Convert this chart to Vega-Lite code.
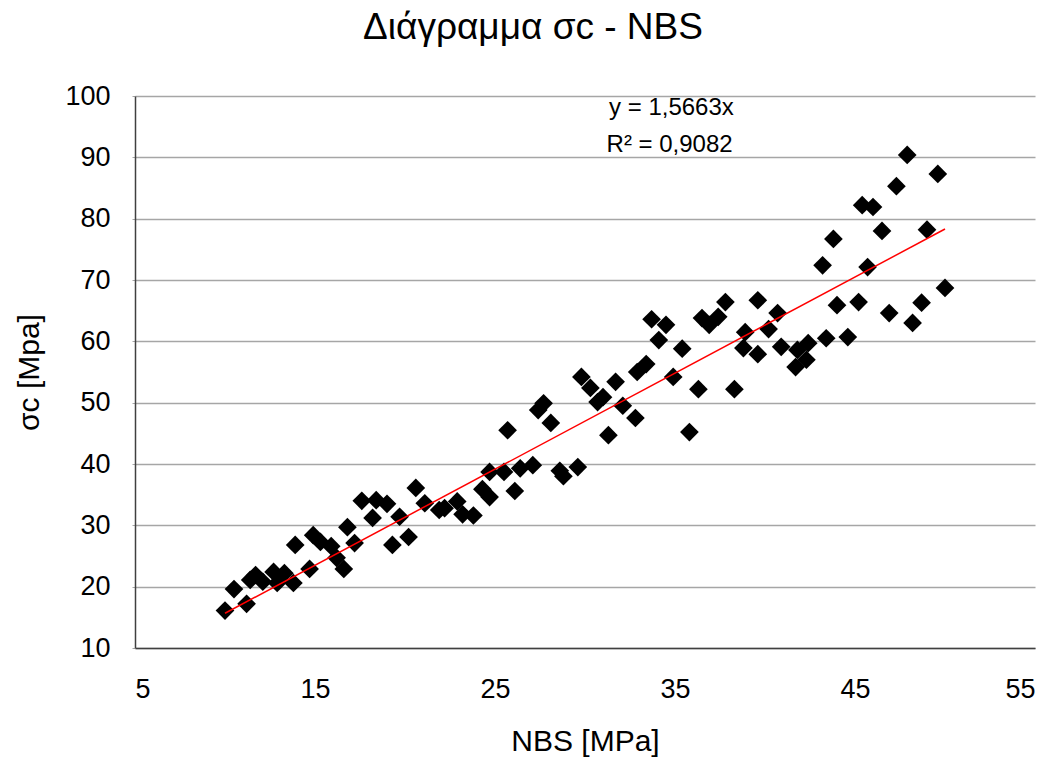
{
  "$schema": "https://vega.github.io/schema/vega-lite/v6.json",
  "width": 900,
  "height": 552,
  "autosize": {"type": "none"},
  "padding": {"left": 135, "top": 96, "right": 22, "bottom": 116},
  "background": "white",
  "config": {
    "font": "Liberation Sans",
    "view": {"stroke": null},
    "axis": {"labelFont": "Liberation Sans", "titleFont": "Liberation Sans", "labelColor": "#000", "titleColor": "#000", "titleFontWeight": "normal"}
  },
  "title": {"text": "Διάγραμμα σc - NBS", "fontSize": 37, "fontWeight": "normal", "font": "Liberation Sans", "color": "#000", "anchor": "middle", "dx": -52, "offset": 35},
  "datasets": {
    "pts": [
      {"NBS": 10.0, "sc": 16.1}, {"NBS": 10.5, "sc": 19.6}, {"NBS": 11.2, "sc": 17.2}, {"NBS": 11.4, "sc": 21.1},
      {"NBS": 11.7, "sc": 21.9}, {"NBS": 12.1, "sc": 20.8}, {"NBS": 12.7, "sc": 22.4}, {"NBS": 12.9, "sc": 20.6},
      {"NBS": 13.3, "sc": 22.2}, {"NBS": 13.8, "sc": 20.6}, {"NBS": 13.9, "sc": 26.8}, {"NBS": 14.7, "sc": 22.9},
      {"NBS": 14.9, "sc": 28.4}, {"NBS": 15.3, "sc": 27.3}, {"NBS": 15.9, "sc": 26.6}, {"NBS": 16.2, "sc": 24.7},
      {"NBS": 16.6, "sc": 22.9}, {"NBS": 16.8, "sc": 29.7}, {"NBS": 17.2, "sc": 27.1}, {"NBS": 17.6, "sc": 34.0},
      {"NBS": 18.2, "sc": 31.2}, {"NBS": 18.4, "sc": 34.1}, {"NBS": 19.0, "sc": 33.5}, {"NBS": 19.3, "sc": 26.8},
      {"NBS": 19.7, "sc": 31.4}, {"NBS": 20.2, "sc": 28.1}, {"NBS": 20.6, "sc": 36.1}, {"NBS": 21.1, "sc": 33.6},
      {"NBS": 21.9, "sc": 32.5}, {"NBS": 22.2, "sc": 32.8}, {"NBS": 22.9, "sc": 33.9}, {"NBS": 23.2, "sc": 31.8},
      {"NBS": 23.8, "sc": 31.6}, {"NBS": 24.3, "sc": 35.9}, {"NBS": 24.7, "sc": 38.7}, {"NBS": 24.7, "sc": 34.6},
      {"NBS": 25.5, "sc": 38.7}, {"NBS": 26.1, "sc": 35.6}, {"NBS": 26.4, "sc": 39.3}, {"NBS": 27.1, "sc": 39.8},
      {"NBS": 25.7, "sc": 45.5}, {"NBS": 27.4, "sc": 48.8}, {"NBS": 27.7, "sc": 49.9}, {"NBS": 28.1, "sc": 46.7},
      {"NBS": 28.6, "sc": 38.9}, {"NBS": 28.8, "sc": 38.0}, {"NBS": 29.6, "sc": 39.5}, {"NBS": 29.8, "sc": 54.2},
      {"NBS": 30.3, "sc": 52.4}, {"NBS": 30.7, "sc": 50.1}, {"NBS": 31.0, "sc": 50.9}, {"NBS": 31.3, "sc": 44.7},
      {"NBS": 31.7, "sc": 53.4}, {"NBS": 32.1, "sc": 49.5}, {"NBS": 32.8, "sc": 47.5}, {"NBS": 32.9, "sc": 55.0},
      {"NBS": 33.4, "sc": 56.3}, {"NBS": 33.7, "sc": 63.6}, {"NBS": 34.1, "sc": 60.2}, {"NBS": 34.5, "sc": 62.7},
      {"NBS": 34.9, "sc": 54.2}, {"NBS": 35.4, "sc": 58.8}, {"NBS": 35.8, "sc": 45.2}, {"NBS": 36.3, "sc": 52.2},
      {"NBS": 36.5, "sc": 63.8}, {"NBS": 36.9, "sc": 62.7}, {"NBS": 37.4, "sc": 64.0}, {"NBS": 37.8, "sc": 66.4},
      {"NBS": 38.3, "sc": 52.2}, {"NBS": 38.9, "sc": 61.5}, {"NBS": 38.8, "sc": 58.9}, {"NBS": 39.6, "sc": 66.7},
      {"NBS": 39.6, "sc": 57.9}, {"NBS": 40.2, "sc": 62.0}, {"NBS": 40.7, "sc": 64.6}, {"NBS": 40.9, "sc": 59.1},
      {"NBS": 41.8, "sc": 58.6}, {"NBS": 41.7, "sc": 55.8}, {"NBS": 42.3, "sc": 57.0}, {"NBS": 42.4, "sc": 59.7},
      {"NBS": 43.4, "sc": 60.5}, {"NBS": 44.6, "sc": 60.7}, {"NBS": 44.0, "sc": 65.9}, {"NBS": 45.2, "sc": 66.4},
      {"NBS": 43.2, "sc": 72.4}, {"NBS": 43.8, "sc": 76.7}, {"NBS": 45.7, "sc": 72.1}, {"NBS": 46.5, "sc": 78.0},
      {"NBS": 45.4, "sc": 82.2}, {"NBS": 46.0, "sc": 81.9}, {"NBS": 47.3, "sc": 85.3}, {"NBS": 47.9, "sc": 90.4},
      {"NBS": 49.6, "sc": 87.3}, {"NBS": 49.0, "sc": 78.2}, {"NBS": 46.9, "sc": 64.6}, {"NBS": 48.2, "sc": 63.0},
      {"NBS": 48.7, "sc": 66.3}, {"NBS": 50.0, "sc": 68.7}
    ],
    "trend": [{"NBS": 10.0, "sc": 15.663}, {"NBS": 50.0, "sc": 78.315}],
    "labels": [{"NBS": 34.8, "sc": 98.0, "t": "y = 1,5663x"}, {"NBS": 34.7, "sc": 92.0, "t": "R² = 0,9082"}]
  },
  "layer": [
    {
      "data": {"name": "pts"},
      "mark": {"type": "point", "shape": "diamond", "filled": true, "color": "#000", "size": 350, "opacity": 1},
      "encoding": {
        "x": {"field": "NBS", "type": "quantitative", "scale": {"domain": [5, 55], "nice": false, "zero": false},
          "axis": {"title": "NBS [MPa]", "values": [5, 15, 25, 35, 45, 55], "grid": false, "domainColor": "#404040", "domainWidth": 1.5, "ticks": false, "labelFontSize": 27, "titleFontSize": 30, "labelPadding": 28, "titlePadding": 24}},
        "y": {"field": "sc", "type": "quantitative", "scale": {"domain": [10, 100], "nice": false, "zero": false},
          "axis": {"title": "σc [Mpa]", "values": [10, 20, 30, 40, 50, 60, 70, 80, 90, 100], "grid": true, "gridColor": "#a6a6a6", "gridWidth": 1.5, "domainColor": "#404040", "domainWidth": 1.5, "tickColor": "#a6a6a6", "tickSize": 3, "labelFontSize": 27, "titleFontSize": 30, "labelPadding": 22, "titlePadding": 20}}
      }
    },
    {
      "data": {"name": "trend"},
      "mark": {"type": "line", "color": "#ff0000", "strokeWidth": 1.5},
      "encoding": {"x": {"field": "NBS", "type": "quantitative"}, "y": {"field": "sc", "type": "quantitative"}}
    },
    {
      "data": {"name": "labels"},
      "mark": {"type": "text", "fontSize": 24, "font": "Liberation Sans", "color": "#000"},
      "encoding": {"x": {"field": "NBS", "type": "quantitative"}, "y": {"field": "sc", "type": "quantitative"}, "text": {"field": "t"}}
    }
  ]
}
